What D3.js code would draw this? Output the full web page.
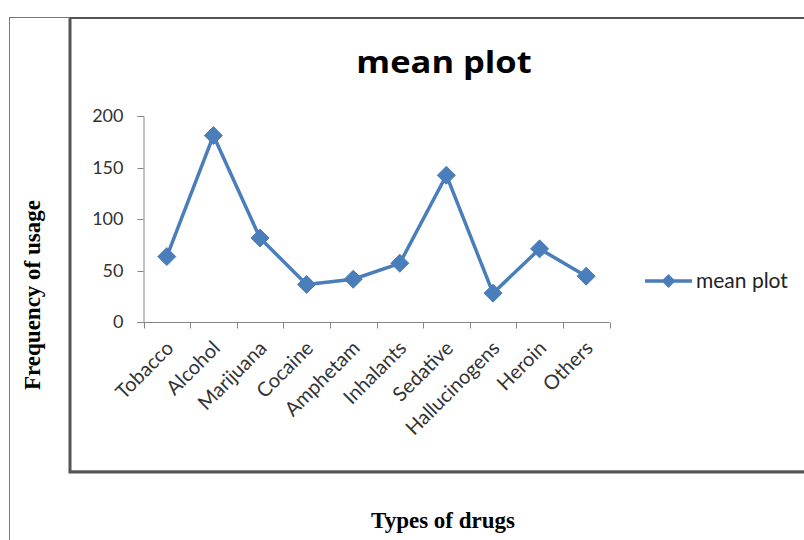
<!DOCTYPE html>
<html>
<head>
<meta charset="utf-8">
<script src="https://cdn.jsdelivr.net/npm/d3@7"></script>
<style>
  html, body { margin: 0; padding: 0; background: #fff; }
  svg { display: block; }
</style>
</head>
<body>
<svg id="chart" width="804" height="540"></svg>
<script>
const categories = ["Tobacco", "Alcohol", "Marijuana", "Cocaine", "Amphetam", "Inhalants", "Sedative", "Hallucinogens", "Heroin", "Others"];
const meanValues = [63.5, 181, 81.5, 36.5, 41.5, 57, 142.5, 28, 71, 44.5];
const yTicks = [0, 50, 100, 150, 200];
const seriesName = "mean plot";
const chartTitle = "mean plot";
const xTitle = "Types of drugs";
const yTitle = "Frequency of usage";

const svg = d3.select("#chart");
const blue = "#4a7ebb";
const axisGray = "#868686";
const labelColor = "#333";
const sansFont = "Lato, 'Open Sans', sans-serif";
const serifFont = "'Liberation Serif', 'DejaVu Serif', serif";

// outer frame lines
svg.append("line").attr("x1", 9.5).attr("x2", 9.5).attr("y1", 17).attr("y2", 540).attr("stroke", "#777").attr("stroke-width", 1);
svg.append("line").attr("x1", 9).attr("x2", 804).attr("y1", 17.5).attr("y2", 17.5).attr("stroke", "#777").attr("stroke-width", 1);

// inner chart box with shadow
svg.append("rect").attr("x", 70.5).attr("y", 18.5).attr("width", 760).attr("height", 452)
  .attr("fill", "none").attr("stroke", "#bbb").attr("stroke-width", 1);
svg.append("path").attr("d", "M70,18 L70,472 L804,472").attr("fill", "none").attr("stroke", "#555").attr("stroke-width", 3);
svg.append("path").attr("d", "M70,18 L804,18").attr("fill", "none").attr("stroke", "#555").attr("stroke-width", 2);

const x = d3.scaleBand().domain(categories).range([143.5, 609.5]).padding(0);
const y = d3.scaleLinear().domain([0, 200]).range([322, 116]);

// y axis
const yAxis = svg.append("g").attr("transform", "translate(143.5,0)")
  .call(d3.axisLeft(y).tickValues(yTicks).tickSize(6).tickPadding(14));
yAxis.select(".domain").attr("stroke", axisGray).attr("d", "M-6,116.5H0.5V322.5");
yAxis.selectAll(".tick line").attr("stroke", axisGray).attr("x2", -6);
yAxis.selectAll(".tick text").attr("fill", labelColor).style("font-family", sansFont).style("font-size", "18px");
yAxis.selectAll(".tick").attr("transform", d => `translate(0,${Math.round(y(d)) + 0.5})`);

// x axis
const xAxis = svg.append("g").attr("transform", "translate(0,322.5)");
xAxis.append("line").attr("x1", 137).attr("x2", 609.5).attr("y1", 0).attr("y2", 0).attr("stroke", axisGray);
const bounds = categories.map(c => x(c)).concat([x(categories[categories.length - 1]) + x.bandwidth()]);
xAxis.selectAll("line.tk").data(bounds).join("line").attr("class", "tk")
  .attr("x1", d => Math.round(d) + 0.5).attr("x2", d => Math.round(d) + 0.5)
  .attr("y1", 0).attr("y2", 6).attr("stroke", axisGray);
xAxis.selectAll("text.cat").data(categories).join("text").attr("class", "cat")
  .attr("transform", d => `translate(${x(d) + x.bandwidth() / 2 + 3},${22}) rotate(-45)`)
  .attr("text-anchor", "end")
  .attr("dy", "0.35em")
  .attr("fill", labelColor)
  .style("font-family", sansFont).style("font-size", "20px")
  .text(d => d);

// line
const cx = c => x(c) + x.bandwidth() / 2;
const line = d3.line().x((d, i) => cx(categories[i])).y(d => y(d));
svg.append("path").datum(meanValues).attr("d", line)
  .attr("fill", "none").attr("stroke", blue).attr("stroke-width", 3.5).attr("stroke-linejoin", "round");

const diamond = (s) => `M0,${-s}L${s},0L0,${s}L${-s},0Z`;
svg.selectAll("path.pt").data(meanValues).join("path").attr("class", "pt")
  .attr("transform", (d, i) => `translate(${cx(categories[i])},${y(d)})`)
  .attr("d", diamond(9)).attr("fill", blue).attr("stroke", blue).attr("stroke-width", 1);

// title
svg.append("text").attr("transform", "translate(444,73) scale(1.15,1)").attr("text-anchor", "middle")
  .style("font-family", "'Open Sans', Lato, sans-serif").style("font-weight", "bold").style("font-size", "30px")
  .attr("fill", "#000").text(chartTitle);

// legend
const lg = svg.append("g").attr("transform", "translate(645,281)");
lg.append("line").attr("x1", 0).attr("x2", 47).attr("y1", 0).attr("y2", 0).attr("stroke", blue).attr("stroke-width", 3.5);
lg.append("path").attr("transform", "translate(23.5,0)").attr("d", diamond(7)).attr("fill", blue);
lg.append("text").attr("x", 51).attr("y", 0).attr("dy", "0.35em").attr("fill", "#222")
  .style("font-family", sansFont).style("font-size", "21px").text(seriesName);

// axis titles
svg.append("text").attr("x", 443).attr("y", 528).attr("text-anchor", "middle")
  .style("font-family", serifFont).style("font-weight", "bold").style("font-size", "23px")
  .attr("fill", "#000").text(xTitle);
svg.append("text").attr("transform", "translate(40,295) rotate(-90)").attr("text-anchor", "middle")
  .style("font-family", serifFont).style("font-weight", "bold").style("font-size", "23px")
  .attr("fill", "#000").text(yTitle);
</script>
</body>
</html>
